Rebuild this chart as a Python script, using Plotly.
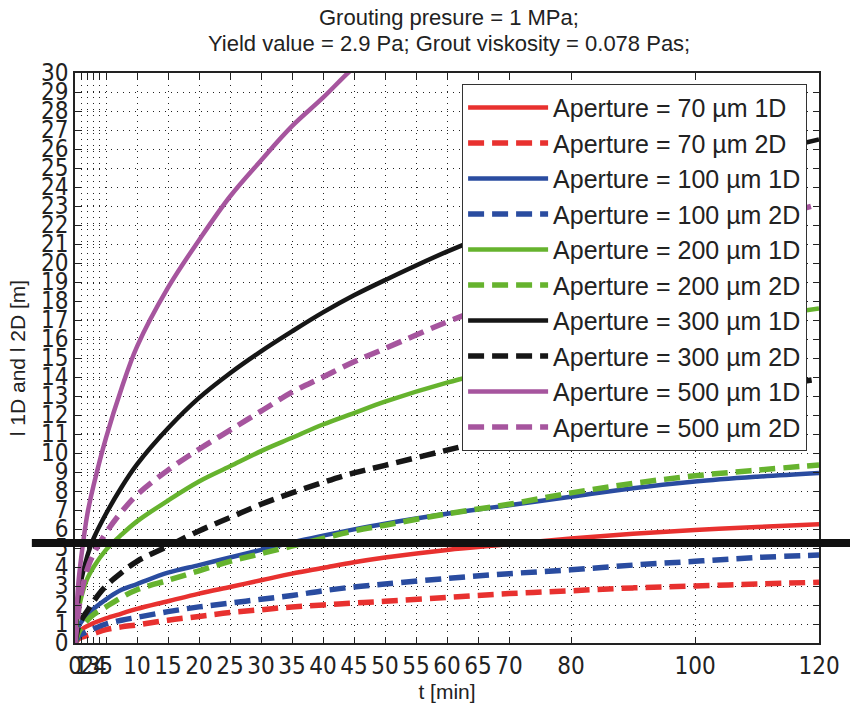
import plotly.graph_objects as go

# ---------------- data ----------------
t_min = [0, 0.5, 1, 2, 3, 5, 7.5, 10, 15, 20, 25, 30, 35, 40, 45, 50, 60, 70, 80, 90, 100, 110, 120]

ap70_1d  = [0, 0.5, 0.7, 0.9, 1.05, 1.3, 1.55, 1.8, 2.2, 2.6, 2.95, 3.3, 3.65, 3.95, 4.25, 4.5, 4.9, 5.2, 5.5, 5.75, 5.95, 6.1, 6.25]
ap70_2d  = [0, 0.2, 0.3, 0.4, 0.5, 0.7, 0.85, 0.95, 1.2, 1.4, 1.6, 1.75, 1.9, 2.0, 2.1, 2.2, 2.4, 2.6, 2.75, 2.9, 3.0, 3.1, 3.2]
ap100_1d = [0, 0.8, 1.1, 1.5, 1.8, 2.3, 2.8, 3.1, 3.7, 4.1, 4.5, 4.9, 5.3, 5.65, 5.98, 6.28, 6.8, 7.25, 7.7, 8.15, 8.5, 8.75, 8.95]
ap100_2d = [0, 0.3, 0.45, 0.6, 0.75, 1.0, 1.2, 1.35, 1.65, 1.9, 2.1, 2.3, 2.5, 2.75, 2.95, 3.1, 3.4, 3.65, 3.85, 4.1, 4.3, 4.5, 4.63]
ap200_1d = [0, 1.6, 2.4, 3.4, 4.0, 4.9, 5.7, 6.4, 7.5, 8.5, 9.3, 10.1, 10.8, 11.5, 12.1, 12.7, 13.7, 14.5, 15.2, 15.9, 16.5, 17.1, 17.6]
ap200_2d = [0, 0.5, 0.8, 1.2, 1.5, 1.9, 2.4, 2.8, 3.3, 3.8, 4.3, 4.7, 5.1, 5.5, 5.9, 6.2, 6.8, 7.3, 7.9, 8.4, 8.8, 9.1, 9.37]
ap300_1d = [0, 2.2, 3.3, 4.6, 5.5, 6.8, 8.2, 9.4, 11.3, 12.9, 14.2, 15.35, 16.4, 17.4, 18.3, 19.1, 20.6, 21.9, 23.0, 23.9, 24.8, 25.7, 26.5]
ap300_2d = [0, 0.8, 1.2, 1.7, 2.2, 3.0, 3.7, 4.3, 5.1, 5.9, 6.6, 7.3, 7.9, 8.45, 8.95, 9.35, 10.15, 10.95, 11.65, 12.3, 12.9, 13.4, 13.9]
ap500_1d = [0, 3.0, 4.5, 6.8, 8.3, 10.8, 13.4, 15.6, 18.7, 21.2, 23.5, 25.4, 27.2, 28.7, 30.3, 31.6]
ap500_2d = [0, 1.5, 2.6, 3.9, 4.7, 5.8, 6.9, 7.8, 9.1, 10.2, 11.2, 12.2, 13.2, 14.0, 14.8, 15.5, 16.9, 18.1, 19.3, 20.4, 21.3, 22.2, 23.1]

series_names = [
    "Aperture = 70 µm 1D", "Aperture = 70 µm 2D",
    "Aperture = 100 µm 1D", "Aperture = 100 µm 2D",
    "Aperture = 200 µm 1D", "Aperture = 200 µm 2D",
    "Aperture = 300 µm 1D", "Aperture = 300 µm 2D",
    "Aperture = 500 µm 1D", "Aperture = 500 µm 2D",
]
series_values = [ap70_1d, ap70_2d, ap100_1d, ap100_2d, ap200_1d, ap200_2d,
                 ap300_1d, ap300_2d, ap500_1d, ap500_2d]

x_tickvals = [0, 1, 2, 3, 4, 5, 10, 15, 20, 25, 30, 35, 40, 45, 50, 55, 60, 65, 70, 80, 100, 120]
y_tickvals = list(range(0, 31))
reference_level = 5.26

title_lines = ["Grouting presure = 1 MPa;",
               "Yield value = 2.9 Pa; Grout viskosity = 0.078 Pas;"]

# ---------------- styling ----------------
colors = ["#E8312F", "#E8312F", "#2A4CA0", "#2A4CA0", "#66B32E", "#66B32E",
          "#161616", "#161616", "#A6559E", "#A6559E"]

fig = go.Figure()
for i, (name, vals) in enumerate(zip(series_names, series_values)):
    dashed = (i % 2 == 1)
    fig.add_trace(go.Scatter(
        x=t_min[:len(vals)], y=vals, name=name, mode="lines",
        line=dict(color=colors[i], width=5.5 if dashed else 4.5,
                  dash="16px,8px" if dashed else "solid", shape="spline", smoothing=1.0),
    ))

fig.add_shape(type="line", xref="paper", yref="y", x0=-0.058, x1=1.05,
              y0=reference_level, y1=reference_level,
              line=dict(color="#111111", width=8), layer="above")

title_font = dict(family="Liberation Sans, Arial, sans-serif", size=22, color="#222222")
fig.add_annotation(text=title_lines[0], xref="paper", yref="paper", x=0.503, y=1.097,
                   xanchor="center", yanchor="middle", showarrow=False, font=title_font)
fig.add_annotation(text=title_lines[1], xref="paper", yref="paper", x=0.503, y=1.052,
                   xanchor="center", yanchor="middle", showarrow=False, font=title_font)

tick_font = dict(family="Liberation Sans Narrow, Arial Narrow, DejaVu Sans Condensed, sans-serif",
                 size=24, color="#222222")

fig.update_layout(
    width=850, height=706,
    margin=dict(l=75, r=31, t=73, b=63, autoexpand=False),
    paper_bgcolor="white", plot_bgcolor="white",
    legend=dict(x=0.984, xanchor="right", y=0.981, yanchor="top",
                bgcolor="white", bordercolor="#333333", borderwidth=1,
                font=dict(family="Liberation Sans, Arial, sans-serif", size=25, color="#222222"),
                itemwidth=80, tracegroupgap=0),
    showlegend=True,
)

fig.update_xaxes(
    range=[0, 120], tickmode="array", tickvals=x_tickvals,
    ticktext=[str(v) for v in x_tickvals], tickangle=0, automargin=False,
    ticks="inside", ticklen=6, tickcolor="#222222", mirror="ticks",
    showline=True, linecolor="#222222", linewidth=1.5,
    showgrid=True, gridcolor="#222222", gridwidth=1, griddash="1px,5px",
    zeroline=False, tickfont=tick_font,
    title=dict(text="t [min]", font=dict(family="Liberation Sans, Arial, sans-serif", size=21, color="#222222"),
               standoff=4),
)
fig.update_yaxes(
    range=[0, 30], tickmode="array", tickvals=y_tickvals,
    ticktext=[str(v) for v in y_tickvals], automargin=False,
    ticks="inside", ticklen=6, tickcolor="#222222", mirror="ticks",
    showline=True, linecolor="#222222", linewidth=1.5,
    showgrid=True, gridcolor="#222222", gridwidth=1, griddash="1px,5px",
    zeroline=False, tickfont=tick_font,
    title=dict(text="l 1D and l 2D [m]", font=dict(family="Liberation Sans, Arial, sans-serif", size=21, color="#222222"),
               standoff=10),
)

fig.write_html("out.html")
